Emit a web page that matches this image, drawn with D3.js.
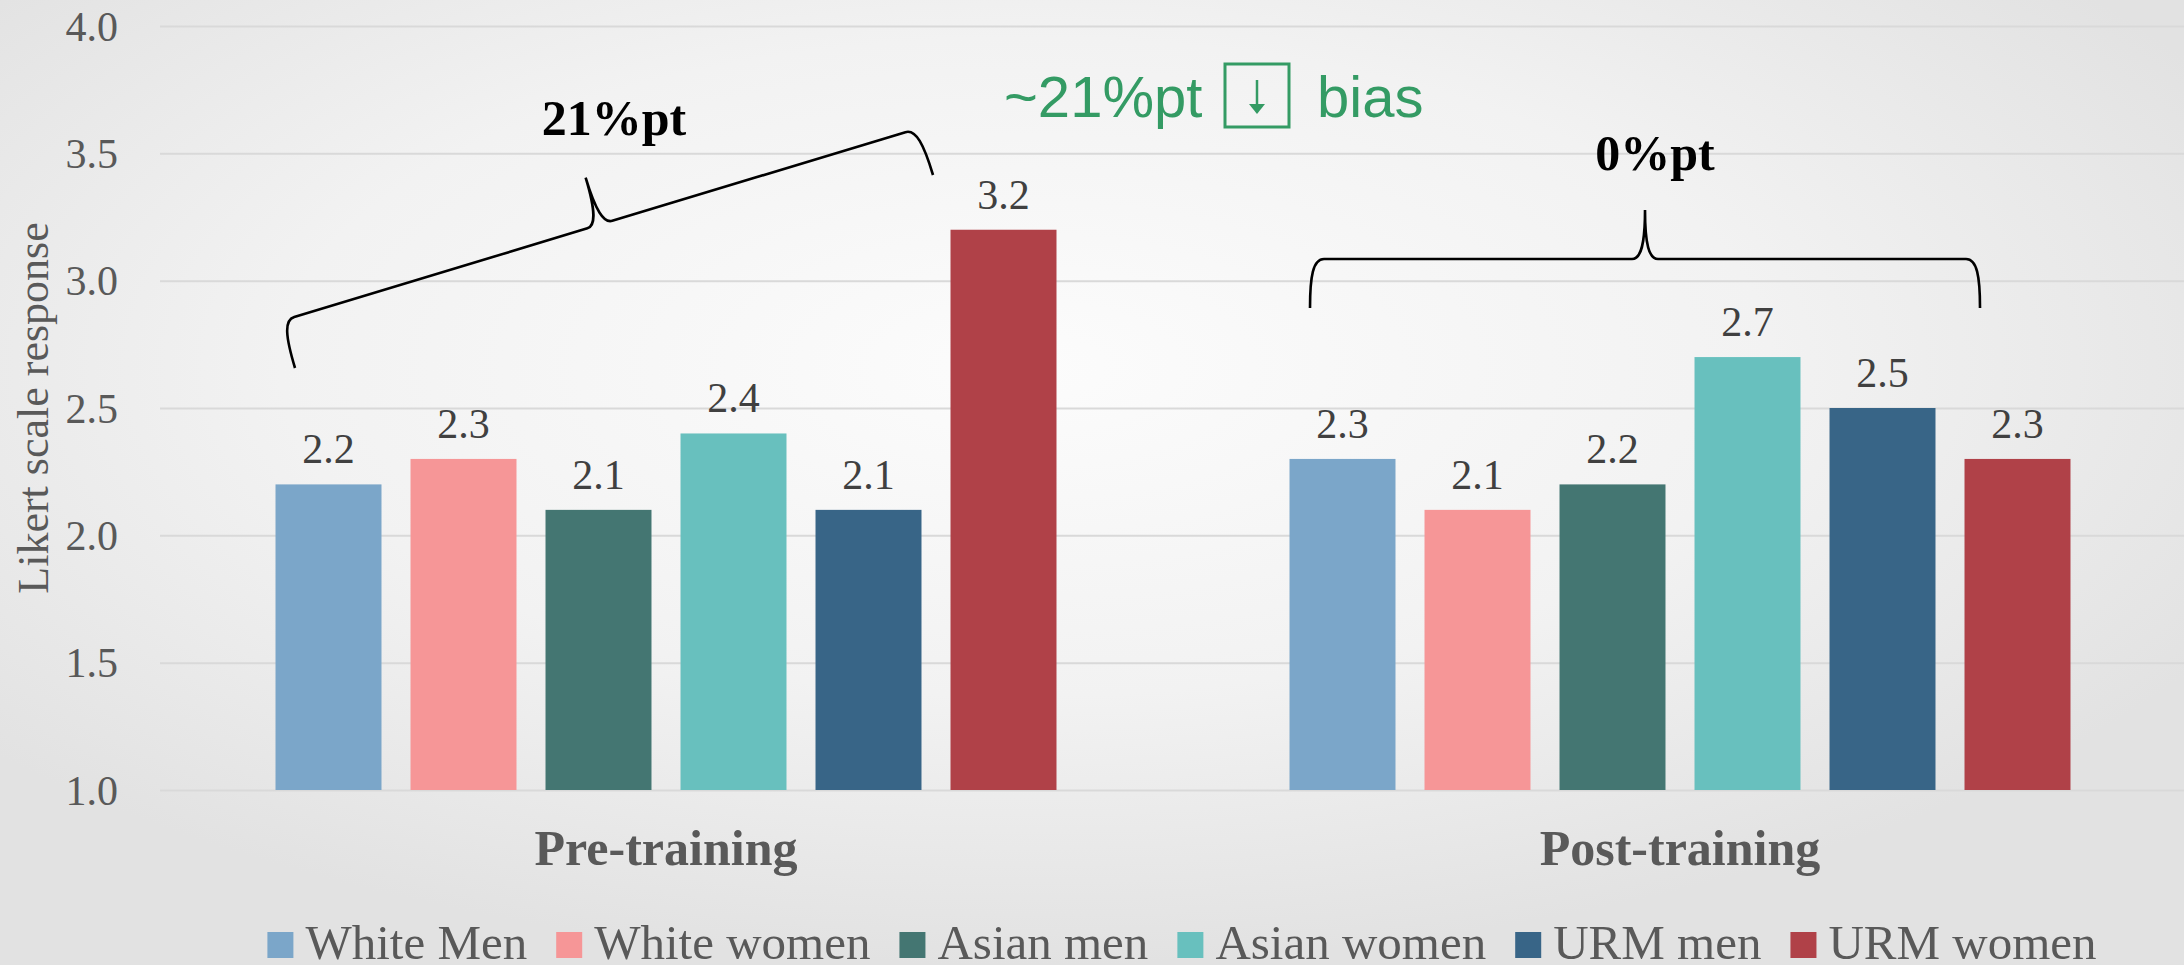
<!DOCTYPE html>
<html>
<head>
<meta charset="utf-8">
<script src="https://cdn.jsdelivr.net/npm/d3@7"></script>
<style>
  html, body { margin: 0; padding: 0; background: #eeeeee; }
  svg { display: block; }
</style>
</head>
<body>
<svg id="chart" width="2184" height="965"></svg>
<script>
// ---- data ----
const categories = ["Pre-training", "Post-training"];
const seriesNames = ["White Men", "White women", "Asian men", "Asian women", "URM men", "URM women"];
const preValues = [2.2, 2.3, 2.1, 2.4, 2.1, 3.2];
const postValues = [2.3, 2.1, 2.2, 2.7, 2.5, 2.3];
const seriesColors = ["#7ba6c9", "#f69697", "#447672", "#68c0be", "#386587", "#b04148"];
const yTicks = [1.0, 1.5, 2.0, 2.5, 3.0, 3.5, 4.0];
const gapLabels = ["21%pt", "0%pt"];
const biasNote = ["~21%pt", "bias"];

const rows = categories.map((c, i) => ({
  category: c,
  values: (i === 0 ? preValues : postValues).map((v, j) => ({ name: seriesNames[j], value: v, color: seriesColors[j] }))
}));

const W = 2184, H = 965;
const svg = d3.select("#chart");
const serif = "'Liberation Serif', 'DejaVu Serif', serif";
const sans = "'Liberation Sans', Arial, sans-serif";
const textGrey = "#595959";

// ---- background ----
const defs = svg.append("defs");
const bg = defs.append("radialGradient").attr("id", "bg")
  .attr("cx", "47%").attr("cy", "38%").attr("r", "62%");
bg.append("stop").attr("offset", "0%").attr("stop-color", "#fcfcfc");
bg.append("stop").attr("offset", "55%").attr("stop-color", "#f2f2f2");
bg.append("stop").attr("offset", "100%").attr("stop-color", "#e2e2e2");
svg.append("rect").attr("width", W).attr("height", H).attr("fill", "url(#bg)");

// ---- scales ----
const x0 = d3.scaleBand().domain(categories).range([159, 2187]).padding(0);
const clusterWidth = 810;
const x1 = d3.scaleBand().domain(seriesNames).range([0, clusterWidth])
  .paddingInner(0.215).paddingOuter(0.1075);
const groupStart = c => x0(c) + (x0.bandwidth() - clusterWidth) / 2;
const y = d3.scaleLinear().domain([1, 4]).range([790, 26]);

// ---- gridlines + tick labels ----
const gridLeft = 160;
const yAxis = svg.append("g")
  .attr("transform", `translate(${gridLeft},0)`)
  .call(d3.axisLeft(y).tickValues(yTicks).tickFormat(d3.format(".1f"))
    .tickSize(-(W - gridLeft)).tickPadding(42));
yAxis.select(".domain").remove();
yAxis.selectAll(".tick line").attr("stroke", "#d9d9d9").attr("stroke-width", 2);
yAxis.selectAll(".tick text")
  .attr("fill", textGrey).attr("font-family", serif).attr("font-size", 42)
  .attr("dy", "0.34em");

// axis title
svg.append("text")
  .attr("transform", `translate(48,${(y(1) + y(4)) / 2}) rotate(-90)`)
  .attr("text-anchor", "middle")
  .attr("font-family", serif).attr("font-size", 44)
  .attr("fill", textGrey)
  .text("Likert scale response");

// ---- bars ----
const groups = svg.selectAll("g.cluster").data(rows).join("g")
  .attr("class", "cluster")
  .attr("transform", d => `translate(${groupStart(d.category)},0)`);

groups.selectAll("rect").data(d => d.values).join("rect")
  .attr("x", d => x1(d.name))
  .attr("width", x1.bandwidth())
  .attr("y", d => y(d.value))
  .attr("height", d => y(1) - y(d.value))
  .attr("fill", d => d.color);

groups.selectAll("text.val").data(d => d.values).join("text")
  .attr("class", "val")
  .attr("x", d => x1(d.name) + x1.bandwidth() / 2)
  .attr("y", d => y(d.value) - 21)
  .attr("text-anchor", "middle")
  .attr("font-family", serif).attr("font-size", 42)
  .attr("fill", "#404040")
  .text(d => d3.format(".1f")(d.value));

// ---- category labels ----
svg.selectAll("text.cat").data(categories).join("text")
  .attr("class", "cat")
  .attr("x", d => x0(d) + x0.bandwidth() / 2)
  .attr("y", 865)
  .attr("text-anchor", "middle")
  .attr("font-family", serif).attr("font-weight", "bold").attr("font-size", 50)
  .attr("fill", textGrey)
  .text(d => d);

// ---- legend ----
const legend = svg.append("g");
const items = legend.selectAll("g").data(seriesNames).join("g");
items.append("rect").attr("width", 26).attr("height", 26).attr("y", 932)
  .attr("fill", (d, i) => seriesColors[i]);
items.append("text").attr("x", 38).attr("y", 959)
  .attr("font-family", serif).attr("font-size", 49).attr("fill", textGrey)
  .text(d => d);
let cursor = 0;
items.each(function () {
  const g = d3.select(this);
  const tw = g.select("text").node().getComputedTextLength();
  g.attr("transform", `translate(${cursor},0)`);
  cursor += 38 + tw + 29;
});
const legendWidth = cursor - 29;
legend.attr("transform", `translate(${1182 - legendWidth / 2},0)`);

// ---- brace annotations ----
function bracePath(len, h) {
  const m = len / 2;
  return `M0,${h} C0,${h * 0.35} 3,0 14,0 L${m - 13},0 C${m - 4},0 ${m},${-h * 0.3} ${m},${-h}` +
    ` C${m},${-h * 0.3} ${m + 4},0 ${m + 13},0 L${len - 14},0 C${len - 3},0 ${len},${h * 0.35} ${len},${h}`;
}
function drawBrace(p1, p2, h) {
  const dx = p2[0] - p1[0], dy = p2[1] - p1[1];
  const len = Math.hypot(dx, dy);
  const a = Math.atan2(dy, dx);
  const ox = p1[0] + h * Math.sin(a), oy = p1[1] - h * Math.cos(a);
  svg.append("path")
    .attr("transform", `translate(${ox},${oy}) rotate(${a * 180 / Math.PI})`)
    .attr("d", bracePath(len, h))
    .attr("fill", "none").attr("stroke", "#000").attr("stroke-width", 2.6);
}
const barX = (c, i) => groupStart(c) + x1(seriesNames[i]);
drawBrace([barX(categories[0], 0) + 19.5, 368], [barX(categories[0], 5) - 17.5, 175], 49);
drawBrace([barX(categories[1], 0) + 20.5, 308], [barX(categories[1], 5) + 15.5, 308], 49);

svg.append("text").attr("x", 614).attr("y", 135).attr("text-anchor", "middle")
  .attr("font-family", serif).attr("font-weight", "bold").attr("font-size", 50)
  .attr("fill", "#000").text(gapLabels[0]);
svg.append("text").attr("x", 1655).attr("y", 170).attr("text-anchor", "middle")
  .attr("font-family", serif).attr("font-weight", "bold").attr("font-size", 50)
  .attr("fill", "#000").text(gapLabels[1]);

// green note: "~21%pt [↓] bias"
const green = "#349b64";
const note = svg.append("g");
note.append("text").attr("x", 1004).attr("y", 117)
  .attr("font-family", sans).attr("font-size", 58).attr("fill", green).text(biasNote[0]);
note.append("rect").attr("x", 1225).attr("y", 64).attr("width", 64).attr("height", 63)
  .attr("fill", "none").attr("stroke", green).attr("stroke-width", 3);
note.append("line").attr("x1", 1257).attr("x2", 1257).attr("y1", 80).attr("y2", 108)
  .attr("stroke", green).attr("stroke-width", 2.5);
note.append("path").attr("d", "M1249,104 L1265,104 L1257,114 Z").attr("fill", green);
note.append("text").attr("x", 1317).attr("y", 117)
  .attr("font-family", sans).attr("font-size", 58).attr("fill", green).text(biasNote[1]);
</script>
</body>
</html>
